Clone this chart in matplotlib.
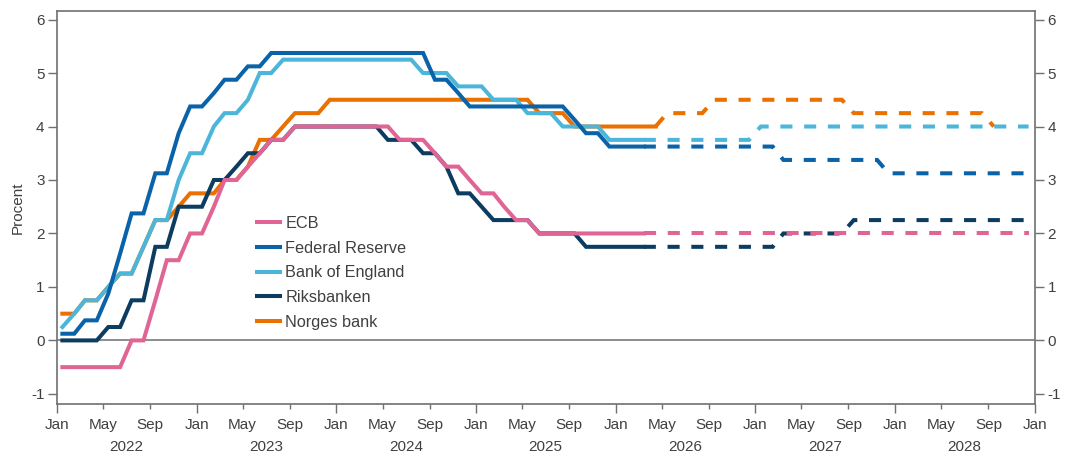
import numpy as np
import pandas as pd
import matplotlib
matplotlib.use("Agg")
import matplotlib.pyplot as plt
import matplotlib.dates as mdates
import matplotlib.transforms as mtransforms
from matplotlib.lines import Line2D

plt.rcParams['font.family'] = ['Liberation Sans', 'DejaVu Sans']

# ---------------- data (monthly, Jan 2022 onward) ----------------
actual_start = "2022-01"
ecb = [-0.5, -0.5, -0.5, -0.5, -0.5, -0.5, 0.0, 0.0, 0.75, 1.5, 1.5, 2.0,
       2.0, 2.5, 3.0, 3.0, 3.25, 3.5, 3.75, 3.75, 4.0, 4.0, 4.0, 4.0,
       4.0, 4.0, 4.0, 4.0, 4.0, 3.75, 3.75, 3.75, 3.5, 3.25, 3.25, 3.0,
       2.75, 2.75, 2.5, 2.25, 2.25, 2.0, 2.0, 2.0, 2.0, 2.0, 2.0, 2.0,
       2.0, 2.0, 2.0]
fed = [0.125, 0.125, 0.375, 0.375, 0.875, 1.625, 2.375, 2.375, 3.125, 3.125, 3.875, 4.375,
       4.375, 4.625, 4.875, 4.875, 5.125, 5.125, 5.375, 5.375, 5.375, 5.375, 5.375, 5.375,
       5.375, 5.375, 5.375, 5.375, 5.375, 5.375, 5.375, 5.375, 4.875, 4.875, 4.625, 4.375,
       4.375, 4.375, 4.375, 4.375, 4.375, 4.375, 4.375, 4.375, 4.125, 3.875, 3.875, 3.625,
       3.625, 3.625, 3.625]
boe = [0.25, 0.5, 0.75, 0.75, 1.0, 1.25, 1.25, 1.75, 2.25, 2.25, 3.0, 3.5,
       3.5, 4.0, 4.25, 4.25, 4.5, 5.0, 5.0, 5.25, 5.25, 5.25, 5.25, 5.25,
       5.25, 5.25, 5.25, 5.25, 5.25, 5.25, 5.25, 5.0, 5.0, 5.0, 4.75, 4.75,
       4.75, 4.5, 4.5, 4.5, 4.25, 4.25, 4.25, 4.0, 4.0, 4.0, 4.0, 3.75,
       3.75, 3.75, 3.75]
riks = [0.0, 0.0, 0.0, 0.0, 0.25, 0.25, 0.75, 0.75, 1.75, 1.75, 2.5, 2.5,
        2.5, 3.0, 3.0, 3.25, 3.5, 3.5, 3.75, 3.75, 4.0, 4.0, 4.0, 4.0,
        4.0, 4.0, 4.0, 4.0, 3.75, 3.75, 3.75, 3.5, 3.5, 3.25, 2.75, 2.75,
        2.5, 2.25, 2.25, 2.25, 2.25, 2.0, 2.0, 2.0, 2.0, 1.75, 1.75, 1.75,
        1.75, 1.75, 1.75]
norges = [0.5, 0.5, 0.75, 0.75, 1.0, 1.25, 1.25, 1.75, 2.25, 2.25, 2.5, 2.75,
          2.75, 2.75, 3.0, 3.0, 3.25, 3.75, 3.75, 4.0, 4.25, 4.25, 4.25, 4.5,
          4.5, 4.5, 4.5, 4.5, 4.5, 4.5, 4.5, 4.5, 4.5, 4.5, 4.5, 4.5,
          4.5, 4.5, 4.5, 4.5, 4.5, 4.25, 4.25, 4.25, 4.0, 4.0, 4.0, 4.0,
          4.0, 4.0, 4.0, 4.0]

# forecasts (monthly, starting at last actual month)
fc_start = "2026-03"
ecb_fc = [2.0, 2.0, 2.0, 2.0, 2.0, 2.0, 2.0, 2.0, 2.0, 2.0, 2.0, 2.0,
          2.0, 2.0, 2.0, 2.0, 2.0, 2.0, 2.0, 2.0, 2.0, 2.0, 2.0, 2.0,
          2.0, 2.0, 2.0, 2.0, 2.0, 2.0, 2.0, 2.0, 2.0, 2.0]
fed_fc = [3.625, 3.625, 3.625, 3.625, 3.625, 3.625, 3.625, 3.625, 3.625, 3.625, 3.625, 3.625,
          3.375, 3.375, 3.375, 3.375, 3.375, 3.375, 3.375, 3.375, 3.375,
          3.125, 3.125, 3.125, 3.125, 3.125, 3.125, 3.125, 3.125, 3.125, 3.125, 3.125, 3.125, 3.125]
boe_fc = [3.75, 3.75, 3.75, 3.75, 3.75, 3.75, 3.75, 3.75, 3.75, 3.75,
          4.0, 4.0, 4.0, 4.0, 4.0, 4.0, 4.0, 4.0, 4.0, 4.0, 4.0, 4.0,
          4.0, 4.0, 4.0, 4.0, 4.0, 4.0, 4.0, 4.0, 4.0, 4.0, 4.0, 4.0]
riks_fc = [1.75, 1.75, 1.75, 1.75, 1.75, 1.75, 1.75, 1.75, 1.75, 1.75, 1.75, 1.75,
           2.0, 2.0, 2.0, 2.0, 2.0, 2.0,
           2.25, 2.25, 2.25, 2.25, 2.25, 2.25, 2.25, 2.25, 2.25, 2.25, 2.25, 2.25,
           2.25, 2.25, 2.25, 2.25]
norges_fc_start = "2026-04"
norges_fc = [4.0, 4.25, 4.25, 4.25, 4.25,
             4.5, 4.5, 4.5, 4.5, 4.5, 4.5, 4.5, 4.5, 4.5, 4.5, 4.5, 4.5,
             4.25, 4.25, 4.25, 4.25, 4.25, 4.25, 4.25, 4.25, 4.25, 4.25, 4.25, 4.25,
             4.0]

names = ["ECB", "Federal Reserve", "Bank of England", "Riksbanken", "Norges bank"]
colors = ["#e06594", "#0a63a8", "#4cb6da", "#0c3c60", "#ea7000"]
years = [2022, 2023, 2024, 2025, 2026, 2027, 2028]

def mid_months(start, n):
    return pd.date_range(start, periods=n, freq="MS") + pd.Timedelta(days=14)

series = [
    (ecb, actual_start, ecb_fc, fc_start),
    (fed, actual_start, fed_fc, fc_start),
    (boe, actual_start, boe_fc, fc_start),
    (riks, actual_start, riks_fc, fc_start),
    (norges, actual_start, norges_fc, norges_fc_start),
]

fig = plt.figure(figsize=(10.66, 4.55), dpi=100)
ax = fig.add_axes([0.0535, 0.112, 0.9175, 0.8638])

text_color = "#404040"
spine_color = "#707070"
lw = 2.9

ax.axhline(0, color="#6e6e6e", lw=1.1, zorder=1)

for i in [4, 3, 2, 1, 0]:
    vals, st, fc, fst = series[i]
    x = mid_months(st, len(vals))
    xf = mid_months(fst, len(fc))
    z = 10 - i
    ax.plot(x, vals, color=colors[i], lw=lw, zorder=z, solid_joinstyle="miter")
    ax.plot(xf, fc, color=colors[i], lw=lw, zorder=z, linestyle=(0, (3.0, 2.9)),
            dash_capstyle="butt", dash_joinstyle="miter")

leg_handles = [Line2D([0], [0], color=c, lw=lw) for c in colors]
ax.legend(leg_handles, names, loc="upper left", bbox_to_anchor=(0.2045, 0.479),
          frameon=False, fontsize=11.7, handlelength=1.4, handletextpad=0.35,
          labelspacing=0.6, borderaxespad=0, borderpad=0, labelcolor=text_color)

ax.set_xlim(pd.Timestamp("2022-01-01"), pd.Timestamp("2029-01-01"))
ax.set_ylim(-1.19, 6.16)
ax.set_yticks(np.arange(-1, 7, 1))
ax.set_yticklabels([str(v) for v in range(-1, 7)])

ax.xaxis.set_major_locator(mdates.MonthLocator(bymonth=[1]))
ax.xaxis.set_major_formatter(mdates.DateFormatter("%b"))
ax.xaxis.set_minor_locator(mdates.MonthLocator(bymonth=[5, 9]))
ax.xaxis.set_minor_formatter(mdates.DateFormatter("%b"))

fs = 11
ax.tick_params(axis="x", which="major", length=6.5, width=1.0, color=spine_color,
               labelsize=fs, labelcolor=text_color, pad=3.2)
ax.tick_params(axis="x", which="minor", length=3.3, width=1.0, color=spine_color,
               labelsize=fs, labelcolor=text_color, pad=6.4)
ax.tick_params(axis="y", which="major", length=6.5, width=1.0, color=spine_color,
               labelsize=fs, labelcolor=text_color, pad=2.5,
               left=True, right=True, labelleft=True, labelright=True)

for s in ax.spines.values():
    s.set_color(spine_color)
    s.set_linewidth(1.2)

ax.set_ylabel("Procent", fontsize=fs, color=text_color, labelpad=4.5)

trans = mtransforms.blended_transform_factory(ax.transData, ax.transAxes)
for y in years:
    ax.text(mdates.date2num(pd.Timestamp(f"{y}-07-01")), -0.109, str(y),
            transform=trans, ha="center", va="center", fontsize=fs, color=text_color)

fig.savefig("out.png", dpi=100)
